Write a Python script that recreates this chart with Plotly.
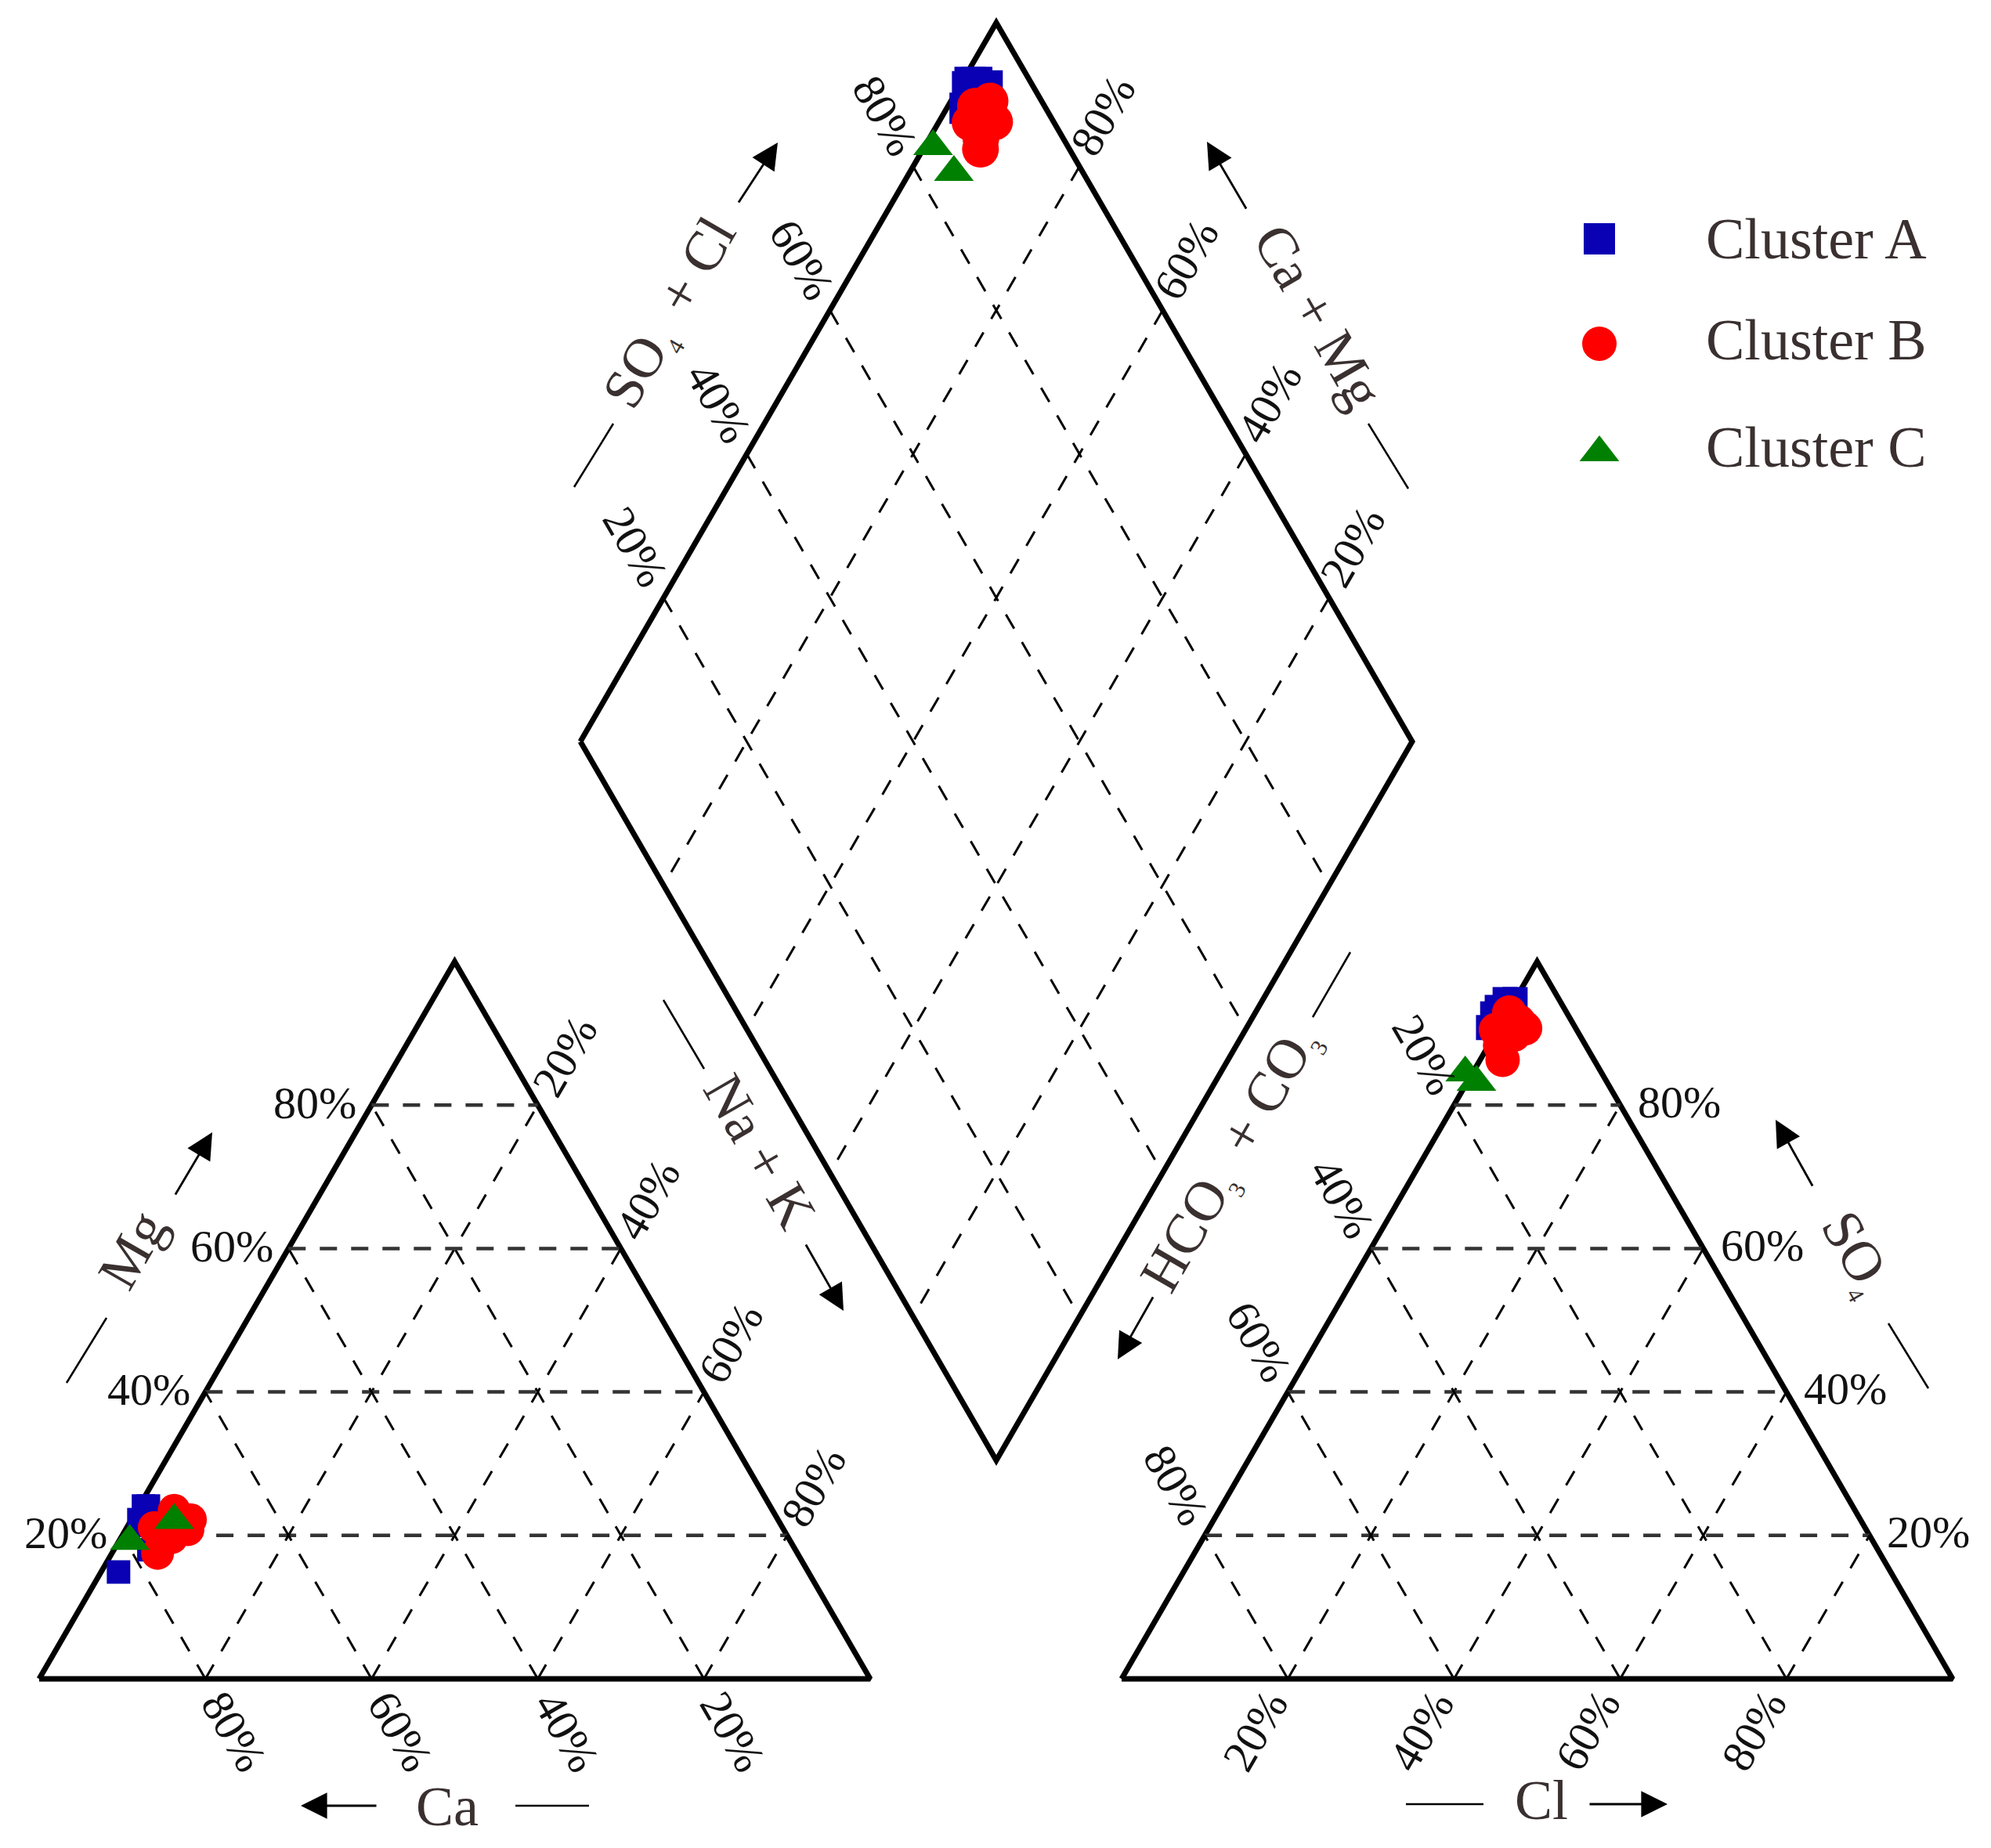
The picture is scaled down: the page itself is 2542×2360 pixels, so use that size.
import plotly.graph_objects as go

# values, in percent
left_a_ca = [83.0, 75.4, 74.8, 76.9, 76.4, 77.8]
left_a_mg = [14.9, 24.1, 24.1, 22.2, 21.4, 18.0]
left_b_ca = [72.0, 70.7, 75.6, 72.9, 77.0, 74.2, 71.7]
left_b_mg = [23.5, 22.2, 21.1, 20.8, 17.5, 19.7, 20.8]
left_c_ca = [79.5, 72.7]
left_c_mg = [19.2, 22.1]

right_a_cl = [0.0, -1.2, -1.6, -1.7, -1.25]
right_a_so4 = [94.7, 94.7, 93.6, 92.7, 90.8]
right_b_cl = [0.2, 3.2, -0.2, 2.3, 2.7, 1.4, 2.0]
right_b_so4 = [92.9, 90.7, 90.5, 89.8, 86.3, 88.3, 91.6]
right_c_cl = [-0.9, 1.1]
right_c_so4 = [84.5, 83.2]

dia_a_anion = [92.7, 94.5, 92.1, 90.3, 93.5]
dia_a_cation = [99.0, 96.7, 99.0, 97.8, 98.2]
dia_b_anion = [93.8, 91.7, 92.9, 89.9, 89.3, 90.1, 91.6]
dia_b_cation = [95.3, 96.7, 93.3, 96.2, 93.1, 93.8, 94.5]
dia_c_anion = [83.8, 84.5]
dia_c_cation = [99.0, 94.7]

grid_steps = [20, 40, 60, 80]
tick_labels = ["20%", "40%", "60%", "80%"]
cluster_names = ["Cluster A", "Cluster B", "Cluster C"]

WIDTH, HEIGHT = 2542, 2360
PAGE_MARGIN = 8  # browser body margin, the axes are shifted to make up for it
TRI_W, TRI_H = 1061, 916
BASE_Y = 2144
LEFT_X0, RIGHT_X0 = 50, 1432
DIA_CX, DIA_BOTTOM, DIA_HW, DIA_HH = 1272, 1865, 531, 918

BLUE, RED, GREEN = "#0a00b4", "#ff0000", "#008000"
LABEL_COLOR = "#3a3030"
SERIF = "Liberation Serif"


def left_xy(ca, mg):
    x = LEFT_X0 + TRI_W * (100 - ca - mg + mg / 2) / 100
    return x, BASE_Y - TRI_H * mg / 100


def right_xy(cl, so4):
    x = RIGHT_X0 + TRI_W * (cl + so4 / 2) / 100
    return x, BASE_Y - TRI_H * so4 / 100


def dia_xy(anion, cation):
    x = DIA_CX + (anion - cation) / 100 * DIA_HW
    return x, DIA_BOTTOM - (anion + cation) / 100 * DIA_HH


fig = go.Figure()


def add_line(points, width=7, dash=None, color="#000000"):
    xs = [p[0] for p in points]
    ys = [p[1] for p in points]
    fig.add_trace(go.Scatter(x=xs, y=ys, mode="lines", showlegend=False, hoverinfo="skip",
                             line=dict(color=color, width=width, dash=dash)))


def add_points(project, first, second, name, symbol, size, color):
    pts = [project(a, b) for a, b in zip(first, second)]
    fig.add_trace(go.Scatter(x=[p[0] for p in pts], y=[p[1] for p in pts], mode="markers", name=name,
                             showlegend=False, marker=dict(symbol=symbol, size=size, color=color)))


def add_text(x, y, text, size, angle=0, color="#111111", anchor="center"):
    fig.add_annotation(x=x, y=y, text=text, showarrow=False, textangle=angle, xanchor=anchor, yanchor="middle",
                       font=dict(family=SERIF, size=size, color=color))


def add_arrow(tail, head):
    fig.add_annotation(x=head[0], y=head[1], ax=tail[0], ay=tail[1], axref="x", ayref="y", text="", showarrow=True,
                       arrowhead=2, arrowsize=2.4, arrowwidth=2.8, arrowcolor="#000000")


def small_sub(digit):
    return f"<sub><span style='font-size:30px'>{digit}</span></sub>"


H_DASH = "22px,18px"
D_DASH = "21px,19.8px"
H_W, D_W = 4.5, 3
H_COLOR = "#333333"

# frames
add_line([left_xy(100, 0), left_xy(0, 0), left_xy(0, 100), left_xy(100, 0)])
add_line([right_xy(0, 0), right_xy(100, 0), right_xy(0, 100), right_xy(0, 0)])
add_line([dia_xy(0, 100), dia_xy(100, 100), dia_xy(100, 0), dia_xy(0, 0), dia_xy(0, 100)])

# grids
for p in grid_steps:
    add_line([left_xy(100 - p, p), left_xy(0, p)], H_W, H_DASH, H_COLOR)
    add_line([left_xy(p, 0), left_xy(p, 100 - p)], D_W, D_DASH)
    add_line([left_xy(100 - p, 0), left_xy(0, 100 - p)], D_W, D_DASH)
    add_line([right_xy(0, p), right_xy(100 - p, p)], H_W, H_DASH, H_COLOR)
    add_line([right_xy(p, 0), right_xy(p, 100 - p)], D_W, D_DASH)
    add_line([right_xy(100 - p, 0), right_xy(0, 100 - p)], D_W, D_DASH)
    add_line([dia_xy(p, 100), dia_xy(p, 0)], D_W, D_DASH)
    add_line([dia_xy(100, p), dia_xy(0, p)], D_W, D_DASH)

# samples
add_points(left_xy, left_a_ca, left_a_mg, cluster_names[0], "square", 30, BLUE)
add_points(left_xy, left_b_ca, left_b_mg, cluster_names[1], "circle", 42, RED)
add_points(left_xy, left_c_ca, left_c_mg, cluster_names[2], "triangle-up", 44, GREEN)
add_points(right_xy, right_a_cl, right_a_so4, cluster_names[0], "square", 32, BLUE)
add_points(right_xy, right_b_cl, right_b_so4, cluster_names[1], "circle", 44, RED)
add_points(right_xy, right_c_cl, right_c_so4, cluster_names[2], "triangle-up", 44, GREEN)
add_points(dia_xy, dia_a_anion, dia_a_cation, cluster_names[0], "square", 40, BLUE)
add_points(dia_xy, dia_b_anion, dia_b_cation, cluster_names[1], "circle", 47, RED)
add_points(dia_xy, dia_c_anion, dia_c_cation, cluster_names[2], "triangle-up", 44, GREEN)

# tick labels, offset from the point on the edge
TICK = 58
for p, lab in zip(grid_steps, tick_labels):
    x, y = left_xy(100 - p, p)
    add_text(x - 72, y - 3, lab, TICK)
    x, y = left_xy(0, 100 - p)
    add_text(x + 34, y - 62, lab, TICK, -60)
    x, y = left_xy(p, 0)
    add_text(x + 37, y + 67, lab, TICK, 60)
    x, y = right_xy(0, 100 - p)
    add_text(x - 37, y - 64, lab, TICK, 60)
    x, y = right_xy(100 - p, p)
    add_text(x + 75, y - 4, lab, TICK)
    x, y = right_xy(p, 0)
    add_text(x - 42, y + 66, lab, TICK, -60)
    x, y = dia_xy(p, 100)
    add_text(x - 36, y - 65, lab, TICK, 60)
    x, y = dia_xy(100, p)
    add_text(x + 30, y - 65, lab, TICK, -60)

# axis titles with their dash and arrow
AXIS = 72
add_text(571, 2307, "Ca", AXIS, color=LABEL_COLOR)
add_line([(658, 2306), (752, 2306)], 2.5)
add_arrow((482, 2306), (384, 2306))

add_text(1968, 2299, "Cl", AXIS, color=LABEL_COLOR)
add_line([(1795, 2304), (1894, 2304)], 2.5)
add_arrow((2028, 2304), (2129, 2304))

add_text(169, 1596, "Mg", AXIS, -60, LABEL_COLOR)
add_line([(85, 1766), (136, 1683)], 2.5)
add_arrow((223, 1527), (271, 1446))

add_text(2369, 1600, "SO" + small_sub(4), AXIS, 60, LABEL_COLOR)
add_line([(2411, 1690), (2462, 1773)], 2.5)
add_arrow((2315, 1516), (2267, 1430))

add_text(856, 400, "SO" + small_sub(4) + "\u2009 + Cl", AXIS, -60, LABEL_COLOR)
add_line([(733, 622), (783, 541)], 2.5)
add_arrow((942, 260), (993, 182))

add_text(1683, 404, "Ca + Mg", AXIS, 60, LABEL_COLOR)
add_line([(1747, 541), (1798, 624)], 2.5)
add_arrow((1592, 268), (1541, 181))

add_text(970, 1470, "Na + K", AXIS, 60, LABEL_COLOR)
add_line([(847, 1277), (899, 1365)], 2.5)
add_arrow((1028, 1588), (1077, 1674))

add_text(1570, 1481, "HCO" + small_sub(3) + "\u00a0 + CO" + small_sub(3), AXIS, -60, LABEL_COLOR)
add_line([(1724, 1216), (1676, 1299)], 2.5)
add_arrow((1473, 1655), (1427, 1736))

# key
key_marker_y = [305, 439, 578]
key_text_y = [305, 434, 571]
key_symbols = ["square", "circle", "triangle-up"]
key_sizes = [40, 44, 44]
key_colors = [BLUE, RED, GREEN]
for i, name in enumerate(cluster_names):
    fig.add_trace(go.Scatter(x=[2042], y=[key_marker_y[i]], mode="markers", name=name, showlegend=False,
                             marker=dict(symbol=key_symbols[i], size=key_sizes[i], color=key_colors[i])))
    add_text(2176, key_text_y[i], name, 74, color=LABEL_COLOR, anchor="left")

fig.update_xaxes(visible=False, range=[PAGE_MARGIN, WIDTH + PAGE_MARGIN], fixedrange=True)
fig.update_yaxes(visible=False, range=[HEIGHT + PAGE_MARGIN, PAGE_MARGIN], fixedrange=True)
fig.update_layout(width=WIDTH, height=HEIGHT, margin=dict(l=0, r=0, t=0, b=0), showlegend=False,
                  paper_bgcolor="white", plot_bgcolor="white")

fig.write_html("out.html")
